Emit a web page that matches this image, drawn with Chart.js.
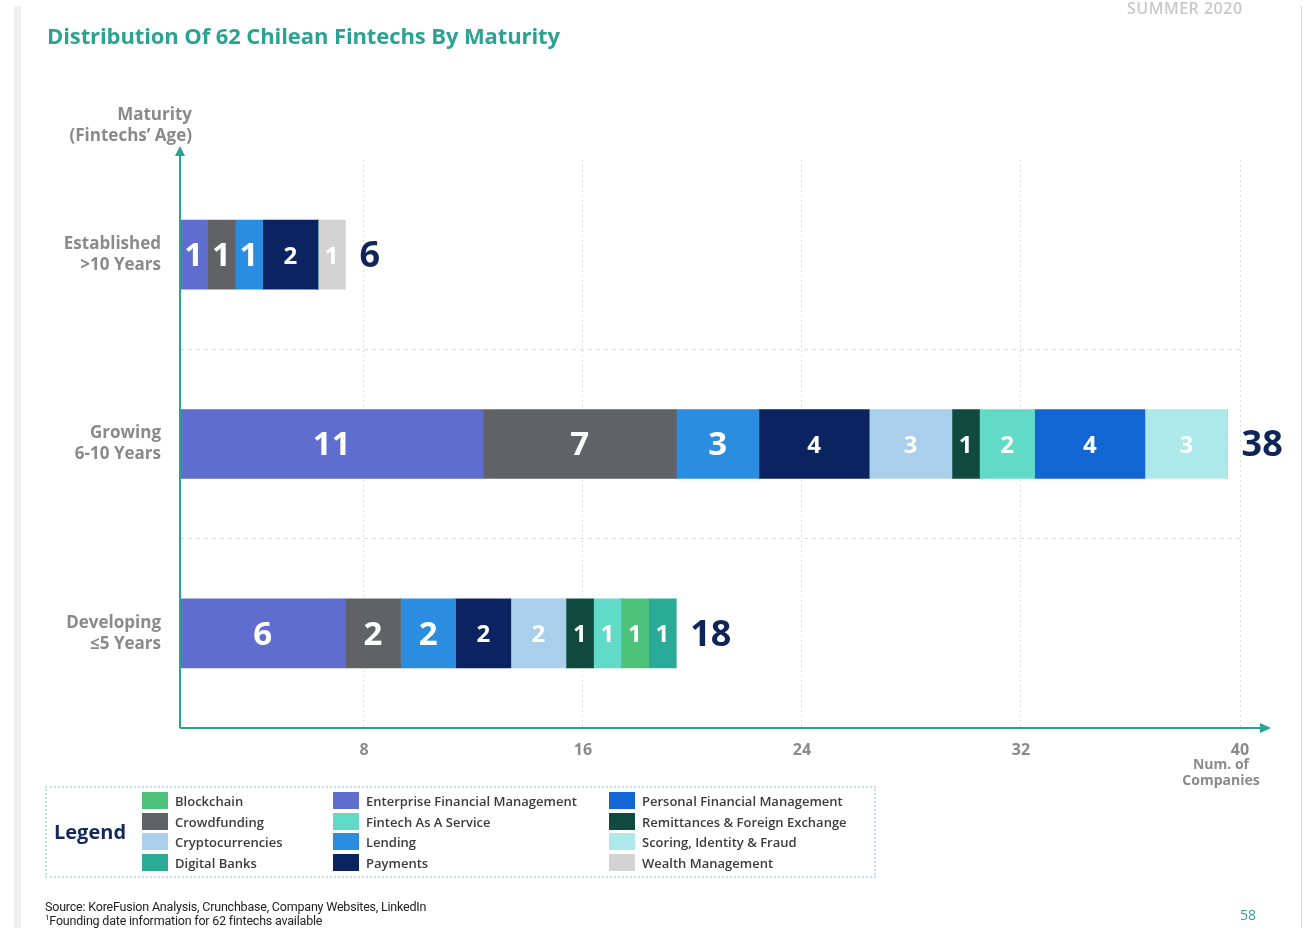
<!DOCTYPE html>
<html>
<head>
<meta charset="utf-8">
<script src="https://cdn.jsdelivr.net/npm/chart.js@4.4.1/dist/chart.umd.min.js"></script>
<style>
  html, body { margin: 0; padding: 0; background: #fff; }
  body { width: 1304px; height: 928px; position: relative; overflow: hidden; font-family: "Open Sans", sans-serif; }
  #page { position: absolute; left: 14px; top: 6px; width: 1280px; height: 930px; border-left: 7px solid #f0f0f0; border-right: 1px solid #d8d8d8; }
  #wrap { position: absolute; left: 0; top: 0; width: 1304px; height: 928px; }
  .title { position: absolute; left: 47px; top: 20px; color: #2aa392; font-weight: 700; font-size: 22px; letter-spacing: -0.1px; }
  .season { position: absolute; left: 1127px; top: -3px; color: #c9c9c9; font-size: 16px; font-weight: 600; letter-spacing: 0.5px; }
  .legend { position: absolute; left: 45px; top: 786px; width: 831px; height: 92px; border: 2px dotted #c5dced; box-sizing: border-box; }
  .legend .lt { position: absolute; left: 7px; top: 30px; font-size: 20px; font-weight: 700; color: #13295b; }
  .legend .it { position: absolute; font-size: 13px; font-weight: 600; color: #3c3c3c; white-space: nowrap; }
  .legend .sw { position: absolute; width: 26px; height: 17px; }
  .foot { position: absolute; left: 45px; font-size: 12.5px; color: #222; font-family: "Liberation Sans Narrow", "Roboto", sans-serif; letter-spacing: -0.2px; }
  .pg { position: absolute; left: 1240px; top: 905px; color: #2aa392; font-size: 14px; }
</style>
</head>
<body>
<div id="page"></div>
<div id="wrap"><canvas id="grafico" width="1304" height="928"></canvas></div>
<div class="title">Distribution Of 62 Chilean Fintechs By Maturity</div>
<div class="season">SUMMER 2020</div>
<div class="legend" id="leyenda"><div class="lt">Legend</div></div>
<div class="foot" style="top:899px">Source: KoreFusion Analysis, Crunchbase, Company Websites, LinkedIn</div>
<div class="foot" style="top:913px"><sup style="font-size:8px">1</sup>Founding date information for 62 fintechs available</div>
<div class="pg">58</div>
<script>
// Categorías (eje Y)
const categorias = [['Established', '>10 Years'], ['Growing', '6-10 Years'], ['Developing', '≤5 Years']];

// Valores por segmento: [Established, Growing, Developing]
const enterpriseFM = [1, 11, 6];
const crowdfunding = [1, 7, 2];
const lending = [1, 3, 2];
const payments = [2, 4, 2];
const cryptocurrencies = [0, 3, 2];
const remittances = [0, 1, 1];
const fintechAsService = [0, 2, 1];
const personalFM = [0, 4, 0];
const scoring = [0, 3, 0];
const blockchain = [0, 0, 1];
const digitalBanks = [0, 0, 1];
const wealth = [1, 0, 0];

// Marcas del eje X
const xTicks = [8, 16, 24, 32, 40];

const teal = '#2aa392';
const gris = '#8a8a8a';
const navy = '#0f2559';

// Orden de apilado tal como aparece en las barras
const series = [
  { label: 'Enterprise Financial Management', data: enterpriseFM, color: '#5f6dcf', big: true },
  { label: 'Crowdfunding', data: crowdfunding, color: '#616266', big: true },
  { label: 'Lending', data: lending, color: '#2a8ddf', big: true },
  { label: 'Payments', data: payments, color: '#0b2461' },
  { label: 'Cryptocurrencies', data: cryptocurrencies, color: '#a9cfea' },
  { label: 'Remittances & Foreign Exchange', data: remittances, color: '#104a3f' },
  { label: 'Fintech As A Service', data: fintechAsService, color: '#62dac8' },
  { label: 'Personal Financial Management', data: personalFM, color: '#1266d3' },
  { label: 'Scoring, Identity & Fraud', data: scoring, color: '#ade8ea' },
  { label: 'Blockchain', data: blockchain, color: '#4dc27b' },
  { label: 'Digital Banks', data: digitalBanks, color: '#2aab97' },
  { label: 'Wealth Management', data: wealth, color: '#d3d3d3' }
];

// Leyenda en HTML (3 columnas, orden alfabético)
const colLegend = [
  ['Blockchain', 'Crowdfunding', 'Cryptocurrencies', 'Digital Banks'],
  ['Enterprise Financial Management', 'Fintech As A Service', 'Lending', 'Payments'],
  ['Personal Financial Management', 'Remittances & Foreign Exchange', 'Scoring, Identity & Fraud', 'Wealth Management']
];
const colX = [95, 286, 562];
const leyenda = document.getElementById('leyenda');
colLegend.forEach((col, c) => {
  col.forEach((name, r) => {
    const s = series.find(d => d.label === name);
    const sw = document.createElement('div');
    sw.className = 'sw';
    sw.style.left = colX[c] + 'px';
    sw.style.top = (4 + r * 20.7) + 'px';
    sw.style.background = s.color;
    leyenda.appendChild(sw);
    const t = document.createElement('div');
    t.className = 'it';
    t.style.left = (colX[c] + 33) + 'px';
    t.style.top = (4 + r * 20.7) + 'px';
    t.textContent = name;
    leyenda.appendChild(t);
  });
});

// Plugin: números dentro de cada segmento, totales y ejes con flecha
const etiquetas = {
  id: 'etiquetas',
  afterDatasetsDraw(chart) {
    const ctx = chart.ctx;
    const fin = [];
    ctx.save();
    ctx.textBaseline = 'middle';
    ctx.textAlign = 'center';
    chart.data.datasets.forEach((ds, i) => {
      const meta = chart.getDatasetMeta(i);
      meta.data.forEach((bar, j) => {
        const v = ds.data[j];
        if (!v) return;
        fin[j] = Math.max(fin[j] || 0, bar.x);
        const size = series[i].big ? 33 : 24;
        ctx.font = '700 ' + size + 'px "Open Sans"';
        ctx.fillStyle = '#ffffff';
        ctx.fillText(String(v), (bar.x + bar.base) / 2, bar.y + 2);
      });
    });
    // totales al final de la barra
    const meta0 = chart.getDatasetMeta(0);
    ctx.textAlign = 'left';
    ctx.font = '700 36px "Open Sans"';
    ctx.fillStyle = navy;
    categorias.forEach((c, j) => {
      const total = series.reduce((a, s) => a + s.data[j], 0);
      ctx.fillText(String(total), fin[j] + 14, meta0.data[j].y + 2);
    });
    ctx.restore();
  },
  afterDraw(chart) {
    const { ctx, chartArea: a } = chart;
    ctx.save();
    ctx.strokeStyle = teal;
    ctx.fillStyle = teal;
    ctx.lineWidth = 2;
    ctx.beginPath();
    ctx.moveTo(a.left, a.bottom);
    ctx.lineTo(a.left, a.top - 6);
    ctx.moveTo(a.left, a.bottom);
    ctx.lineTo(a.right + 24, a.bottom);
    ctx.stroke();
    // flechas
    ctx.beginPath();
    ctx.moveTo(a.left, a.top - 14);
    ctx.lineTo(a.left - 5, a.top - 4);
    ctx.lineTo(a.left + 5, a.top - 4);
    ctx.closePath();
    ctx.fill();
    ctx.beginPath();
    ctx.moveTo(a.right + 31, a.bottom);
    ctx.lineTo(a.right + 20, a.bottom - 5);
    ctx.lineTo(a.right + 20, a.bottom + 5);
    ctx.closePath();
    ctx.fill();
    // títulos de ejes
    ctx.fillStyle = gris;
    ctx.font = '700 17px "Open Sans"';
    ctx.textAlign = 'right';
    ctx.textBaseline = 'middle';
    ctx.fillText('Maturity', 192, 115);
    ctx.fillText('(Fintechs\u2019 Age)', 192, 136);
    ctx.textAlign = 'center';
    ctx.font = '700 14px "Open Sans"';
    ctx.fillText('Num. of', 1221, 765);
    ctx.fillText('Companies', 1221, 781);
    ctx.restore();
  }
};

const ctx = document.getElementById('grafico').getContext('2d');

new Chart(ctx, {
  type: 'bar',
  data: {
    labels: categorias,
    datasets: series.map(s => ({
      label: s.label,
      data: s.data,
      backgroundColor: s.color,
      borderWidth: 0,
      barThickness: 69,
      xAxisID: 'x'
    }))
  },
  options: {
    indexAxis: 'y',
    responsive: false,
    animation: false,
    devicePixelRatio: 1,
    layout: { padding: { top: 160, right: 64, bottom: 160, left: 0 } },
    plugins: {
      legend: { display: false },
      tooltip: { enabled: false }
    },
    scales: {
      // eje de las barras (oculto)
      x: {
        type: 'linear',
        stacked: true,
        min: 0,
        max: 38.45,
        display: false
      },
      // eje visible con las marcas
      x2: {
        type: 'linear',
        position: 'bottom',
        min: 1.28,
        max: 40,
        afterBuildTicks: (scale) => { scale.ticks = xTicks.map(v => ({ value: v })); },
        afterFit: (scale) => { scale.height = 40; },
        grid: { color: '#dedede', drawTicks: false, lineWidth: 1 },
        border: { display: false, dash: [2, 3] },
        ticks: {
          color: gris,
          padding: 13,
          font: { family: 'Open Sans', size: 16, weight: '700' }
        }
      },
      y: {
        stacked: true,
        afterFit: (scale) => { scale.width = 180; },
        grid: {
          offset: true,
          drawTicks: false,
          color: (c) => (c.index === 1 || c.index === 2) ? '#dcdcdc' : 'rgba(0,0,0,0)'
        },
        border: { display: false, dash: [4, 4] },
        ticks: {
          color: gris,
          padding: 19,
          font: { family: 'Open Sans', size: 17, weight: '700', lineHeight: 1.25 }
        }
      }
    }
  },
  plugins: [etiquetas]
});
</script>
</body>
</html>
